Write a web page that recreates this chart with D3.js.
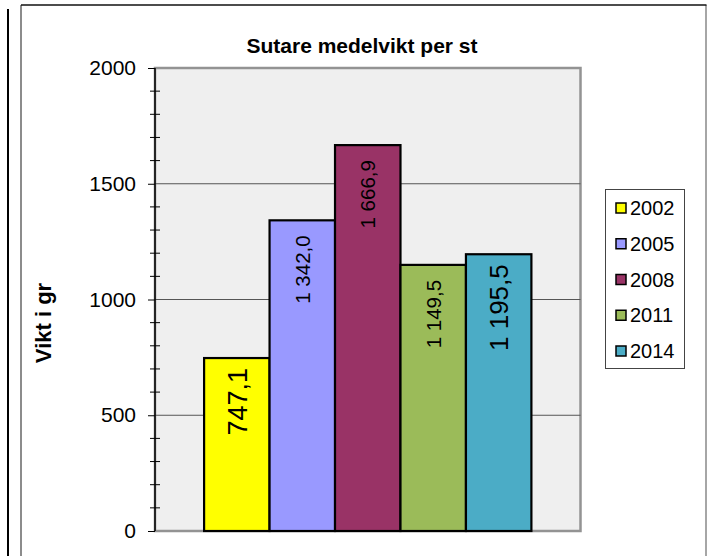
<!DOCTYPE html>
<html>
<head>
<meta charset="utf-8">
<script src="https://cdn.jsdelivr.net/npm/d3@7"></script>
<style>
  html, body { margin: 0; padding: 0; background: #fff; }
  svg { display: block; font-family: "Liberation Sans", Arial, sans-serif; }
</style>
</head>
<body>
<svg id="chart" width="712" height="556"></svg>
<script>
// ---- data ----
const title = "Sutare medelvikt per st";
const yAxisTitle = "Vikt i gr";
const category = [""];
const years = ["2002", "2005", "2008", "2011", "2014"];
const values = [747.1, 1342.0, 1666.9, 1149.5, 1195.5];
const labels = ["747,1", "1 342,0", "1 666,9", "1 149,5", "1 195,5"];
const yTicks = [0, 500, 1000, 1500, 2000];

// ---- styles ----
const colors = ["#FFFF00", "#9999FF", "#993366", "#9BBB59", "#4BACC6"];
const labelSizes = [27, 20.5, 20.5, 20.5, 26];

const svg = d3.select("#chart");
const plot = { left: 155, right: 580.5, top: 68, bottom: 531 };

// outer frame
svg.append("line").attr("x1", 8).attr("x2", 8).attr("y1", 9).attr("y2", 560)
  .attr("stroke", "#000").attr("stroke-width", 2);
svg.append("line").attr("x1", 21).attr("x2", 21).attr("y1", 5).attr("y2", 560)
  .attr("stroke", "#666").attr("stroke-width", 1.5);
svg.append("line").attr("x1", 706).attr("x2", 706).attr("y1", 5).attr("y2", 560)
  .attr("stroke", "#888").attr("stroke-width", 1.5);
svg.append("line").attr("x1", 21).attr("x2", 706.5).attr("y1", 5).attr("y2", 5)
  .attr("stroke", "#111").attr("stroke-width", 1.5);

// scales
const y = d3.scaleLinear().domain([0, 2000]).range([plot.bottom, plot.top]);
const x0 = d3.scaleBand().domain(category).range([plot.left, plot.right])
  .paddingInner(0).paddingOuter(0.15);
const x1 = d3.scaleBand().domain(years).range([0, x0.bandwidth()]);
const color = d3.scaleOrdinal().domain(years).range(colors);

// plot background
svg.append("rect")
  .attr("x", plot.left).attr("y", plot.top)
  .attr("width", plot.right - plot.left).attr("height", plot.bottom - plot.top)
  .attr("fill", "#efefef").attr("stroke", "#939393").attr("stroke-width", 2.5);

// gridlines
svg.append("g").selectAll("line")
  .data(yTicks.filter(d => d > 0 && d < 2000))
  .join("line")
  .attr("x1", plot.left).attr("x2", plot.right)
  .attr("y1", d => y(d)).attr("y2", d => y(d))
  .attr("stroke", "#555").attr("stroke-width", 1);

// minor ticks (cross)
const minor = d3.range(100, 2000, 100).filter(d => d % 500 !== 0);
svg.append("g").selectAll("line").data(minor).join("line")
  .attr("x1", plot.left - 5).attr("x2", plot.left + 5)
  .attr("y1", d => y(d)).attr("y2", d => y(d))
  .attr("stroke", "#000").attr("stroke-width", 1);

// y axis (major ticks outside)
const yAxis = d3.axisLeft(y).tickValues(yTicks).tickSize(7).tickPadding(12)
  .tickFormat(d3.format("d"));
const gy = svg.append("g").attr("transform", `translate(${plot.left},0)`).call(yAxis);
gy.select(".domain").remove();
gy.selectAll(".tick line").attr("stroke", "#000").attr("stroke-width", 1);
gy.selectAll(".tick text").attr("font-size", 21).attr("fill", "#000")
  .attr("font-family", "Liberation Sans, Arial, sans-serif");
svg.append("line").attr("x1", plot.left).attr("x2", plot.left)
  .attr("y1", plot.top).attr("y2", plot.bottom)
  .attr("stroke", "#000").attr("stroke-width", 1.5);

// bars
const g = svg.append("g").attr("transform", `translate(${x0(category[0])},0)`);
g.selectAll("rect").data(years).join("rect")
  .attr("x", d => x1(d)).attr("width", x1.bandwidth())
  .attr("y", (d, i) => y(values[i]))
  .attr("height", (d, i) => y(0) - y(values[i]))
  .attr("fill", d => color(d))
  .attr("stroke", "#000").attr("stroke-width", 2.2);

// data labels
g.selectAll("text.lbl").data(years).join("text")
  .attr("class", "lbl")
  .attr("transform", (d, i) =>
    `translate(${x1(d) + x1.bandwidth() / 2},${y(values[i]) + (labelSizes[i] > 22 ? 10 : 15)}) rotate(-90)`)
  .attr("text-anchor", "end")
  .attr("dy", "0.36em")
  .attr("font-size", (d, i) => labelSizes[i])
  .attr("fill", "#000")
  .text((d, i) => labels[i]);

// title
svg.append("text").attr("x", 362).attr("y", 53)
  .attr("text-anchor", "middle").attr("font-weight", "bold").attr("font-size", 21)
  .text(title);

// y axis title
svg.append("text")
  .attr("transform", "translate(51,323) rotate(-90)")
  .attr("text-anchor", "middle").attr("font-weight", "bold").attr("font-size", 22)
  .text(yAxisTitle);

// legend
const lg = svg.append("g");
lg.append("rect").attr("x", 605.5).attr("y", 189.5).attr("width", 79).attr("height", 179)
  .attr("fill", "#fff").attr("stroke", "#444").attr("stroke-width", 1);
const ly = d3.scalePoint().domain(years).range([208, 351]);
const items = lg.selectAll("g.item").data(years).join("g").attr("class", "item")
  .attr("transform", d => `translate(0,${ly(d)})`);
items.append("rect").attr("x", 616).attr("y", -5).attr("width", 10).attr("height", 10)
  .attr("fill", d => color(d)).attr("stroke", "#000").attr("stroke-width", 1.5);
items.append("text").attr("x", 630).attr("dy", "0.36em").attr("font-size", 20)
  .attr("fill", "#000").text(d => d);
</script>
</body>
</html>
